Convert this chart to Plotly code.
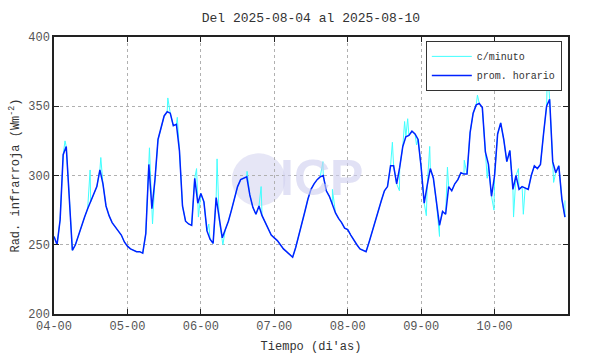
import pandas as pd
import plotly.graph_objects as go

start = pd.Timestamp("2025-08-04 00:00")

# Hourly means (prom. horario), one list per day, W/m2
day04 = [256, 250, 268, 315, 321, 285, 246, 250, 257, 264, 270, 276, 281, 286, 292, 304, 294, 278, 271, 266, 263, 260, 257, 252]
day05 = [249, 247, 246, 245, 245, 244, 258, 308, 276, 297, 326, 334, 343, 346, 345, 336, 337, 318, 278, 267, 265, 264, 298, 280]
day06 = [287, 281, 260, 254, 251, 284, 268, 255, 261, 267, 275, 283, 292, 297, 298, 299, 286, 277, 272, 278, 271, 266, 262, 257]
day07 = [255, 253, 250, 247, 245, 243, 241, 248, 256, 265, 274, 283, 290, 294, 297, 299, 300, 289, 285, 279, 273, 269, 266, 262]
day08 = [261, 257, 253, 250, 247, 246, 245, 252, 260, 267, 275, 282, 289, 292, 307, 307, 294, 306, 321, 328, 329, 332, 330, 326]
day09 = [306, 280, 293, 305, 298, 280, 264, 274, 272, 292, 289, 294, 297, 302, 301, 301, 331, 345, 351, 352, 349, 317, 308, 285]
day10 = [300, 330, 338, 326, 310, 318, 290, 300, 290, 292, 291, 290, 300, 307, 305, 308, 330, 350, 355, 310, 302, 307, 283, 270]

hourly_values = day04 + day05 + day06 + day07 + day08 + day09 + day10
hourly_times = [start + pd.Timedelta(hours=h) for h in range(len(hourly_values))]

# Per-minute readings visible as spikes off the hourly line (hours from start, value)
spike_hours = [3.6, 11.8, 15.3,
               31.2, 32.2, 37.2, 40.3, 46.6, 47.2,
               50.6, 53.3, 55.2, 63.1, 67.7,
               87.9, 91.0,
               110.6, 112.9, 114.6, 115.6, 118.5,
               121.7, 122.8, 126.0, 128.6, 134.1, 138.4, 141.6, 143.8,
               150.2, 151.8, 153.4, 161.3, 163.3, 167.0]
spike_values = [325, 304, 313,
                320, 265, 356, 342, 305, 270,
                265, 312, 250, 303, 292,
                310, 290,
                324, 289, 339, 341, 322,
                271, 321, 256, 306, 311, 358, 298, 275,
                270, 305, 272, 378, 295, 282]

minute_pairs = sorted(
    [(h, v) for h, v in zip(range(len(hourly_values)), hourly_values)]
    + list(zip(spike_hours, spike_values))
)
minute_times = [start + pd.Timedelta(hours=h) for h, _ in minute_pairs]
minute_values = [v for _, v in minute_pairs]

tick_days = pd.date_range("2025-08-04", periods=7, freq="D")

FONT = "Liberation Mono, DejaVu Sans Mono, monospace"

fig = go.Figure()
fig.add_trace(go.Scatter(x=minute_times, y=minute_values, mode="lines",
                         name="c/minuto", line=dict(color="#40FFFF", width=1)))
fig.add_trace(go.Scatter(x=hourly_times, y=hourly_values, mode="lines",
                         name="prom. horario", line=dict(color="#0022FF", width=1.5)))

# watermark
fig.add_shape(type="circle", xref="paper", yref="paper",
              x0=0.346, x1=0.45, y0=0.39, y1=0.58,
              fillcolor="rgba(205,205,238,0.5)", line=dict(width=0), layer="below")
fig.add_annotation(text="<b>ICP</b>", xref="paper", yref="paper", x=0.52, y=0.49,
                   showarrow=False, font=dict(family="Liberation Sans, Arial", size=50,
                                              color="rgba(205,205,238,0.6)"))

fig.update_layout(
    width=590, height=354,
    margin=dict(l=54, r=22, t=37, b=40, autoexpand=False),
    paper_bgcolor="white", plot_bgcolor="white",
    font=dict(family=FONT, size=11, color="#333333"),
    title=dict(text="Del 2025-08-04 al 2025-08-10", x=0.527, xanchor="center",
               y=0.952, yanchor="middle", font=dict(family=FONT, size=13, color="#333333")),
    showlegend=True,
    legend=dict(x=0.988, y=0.986, xanchor="right", yanchor="top",
                bgcolor="white", bordercolor="#333333", borderwidth=1,
                font=dict(family=FONT, size=10, color="#333333"),
                tracegroupgap=0, itemwidth=40),
)
fig.update_xaxes(
    range=[start, start + pd.Timedelta(days=7)],
    tickvals=tick_days, ticktext=[d.strftime("%d-%H") for d in tick_days],
    ticks="inside", ticklen=5, tickcolor="#222222",
    showline=True, linecolor="#222222", linewidth=1.5, mirror="ticks",
    showgrid=True, gridcolor="#b0b0b0", griddash="dot", gridwidth=1,
    automargin=False,
    title=dict(text="Tiempo (di'as)", font=dict(family=FONT, size=12, color="#333333"), standoff=8),
    tickfont=dict(family=FONT, size=12, color="#555555"),
    zeroline=False,
)
fig.update_yaxes(
    range=[200, 400], tickvals=[200, 250, 300, 350, 400],
    ticks="inside", ticklen=5, tickcolor="#222222",
    showline=True, linecolor="#222222", linewidth=1.5, mirror="ticks",
    showgrid=True, gridcolor="#b0b0b0", griddash="dot", gridwidth=1,
    automargin=False,
    title=dict(text="Rad. infrarroja (Wm<sup>-2</sup>)", font=dict(family=FONT, size=12, color="#333333"), standoff=6),
    tickfont=dict(family=FONT, size=12, color="#555555"),
    zeroline=False,
)

fig.write_html("out.html")
